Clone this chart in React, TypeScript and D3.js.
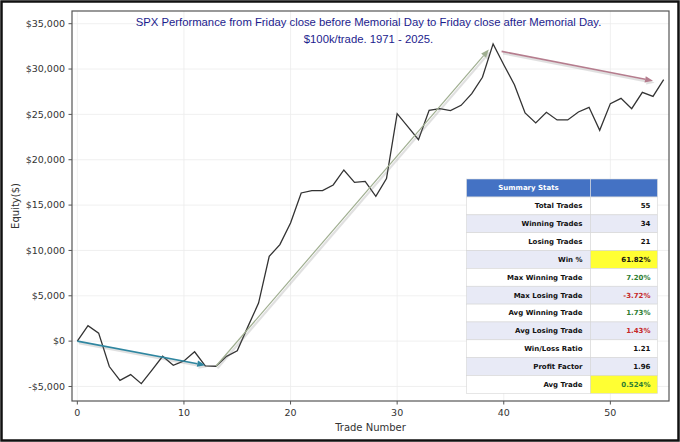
import React from "react";
import * as d3 from "d3";

// equity curve, $ after each trade (trade 0 = start)
const equity = [
  0, 1710, 880, -2800, -4320, -3690, -4690, -3200, -1670, -2660,
  -2180, -1170, -2730, -2770, -1680, -1070, 1600, 4200, 9350, 10640,
  13030, 16340, 16600, 16590, 17220, 18870, 17510, 17620, 15970, 17920,
  25080, 23650, 22220, 25450, 25630, 25410, 26000, 27290, 29090, 32770,
  30480, 28280, 25160, 24060, 25230, 24390, 24390, 25270, 25780, 23240,
  26190, 26770, 25630, 27430, 26990, 28830,
];

const xTicks = [0, 10, 20, 30, 40, 50];
const yTicks = [-5000, 0, 5000, 10000, 15000, 20000, 25000, 30000, 35000];

// trend arrows in data space: [x0, y0, x1, y1, colour]
const arrows: [number, number, number, number, string][] = [
  [0, 0, 12.0, -2650, "#2f86a0"],
  [13, -2770, 38.6, 32150, "#9fae90"],
  [39.8, 31950, 54.0, 28700, "#b57d8e"],
];

const statLabels = [
  "Total Trades", "Winning Trades", "Losing Trades", "Win %",
  "Max Winning Trade", "Max Losing Trade", "Avg Winning Trade",
  "Avg Losing Trade", "Win/Loss Ratio", "Profit Factor", "Avg Trade",
];
const statValues = [
  "55", "34", "21", "61.82%", "7.20%", "-3.72%", "1.73%", "1.43%",
  "1.21", "1.96", "0.524%",
];
const statColors = [
  "#111", "#111", "#111", "#111", "#2e7d32", "#c62828", "#2e7d32",
  "#c62828", "#111", "#111", "#2e7d32",
];
const statHighlight = [false, false, false, true, false, false, false, false, false, false, true];

const W = 680;
const H = 442;
const left = 72, right = 669, top = 11, bottom = 401;

function Arrow({ x0, y0, x1, y1, color, w }: { x0: number; y0: number; x1: number; y1: number; color: string; w: number }) {
  const ang = Math.atan2(y1 - y0, x1 - x0);
  const hl = 8, hw = 3.2;
  const bx = x1 - hl * Math.cos(ang), by = y1 - hl * Math.sin(ang);
  const px = -Math.sin(ang) * hw, py = Math.cos(ang) * hw;
  const head = `M${x1},${y1}L${bx + px},${by + py}L${bx - px},${by - py}Z`;
  return (
    <g>
      <g transform="translate(1.5,2)" opacity={0.22}>
        <line x1={x0} y1={y0} x2={bx} y2={by} stroke="#777" strokeWidth={2.2} />
        <path d={head} fill="#777" />
      </g>
      <line x1={x0} y1={y0} x2={bx} y2={by} stroke={color} strokeWidth={w} />
      <path d={head} fill={color} />
    </g>
  );
}

export default function App() {
  const x = d3.scaleLinear().domain([-0.5, 55.5]).range([left, right]);
  const y = d3.scaleLinear().domain([-6600, 36400]).range([bottom, top]);

  const line = d3.line<number>()
    .x((_, i) => x(i))
    .y(d => y(d));

  const fmt = (v: number) => (v < 0 ? "-$" : "$") + d3.format(",")(Math.abs(v));

  // table geometry
  const tx = 466.5, tw1 = 124, tw2 = 67, th = 18, rowH = 17.85;
  const ty = 179;

  return (
    <div style={{ position: "absolute", left: 0, top: 0 }}>
      <svg width={W} height={H} style={{ display: "block", background: "#fff" }}>
        <rect x={1.5} y={1.5} width={W - 3} height={H - 3} fill="#fff" stroke="#111" strokeWidth={2.5} />

        {/* grid */}
        <g stroke="#ececec" strokeWidth={0.8}>
          {xTicks.map(t => <line key={"gx" + t} x1={x(t)} x2={x(t)} y1={top} y2={bottom} />)}
          {yTicks.map(t => <line key={"gy" + t} x1={left} x2={right} y1={y(t)} y2={y(t)} />)}
        </g>

        {/* equity line */}
        <path d={line(equity) ?? ""} fill="none" stroke="#333" strokeWidth={1.3} />

        {arrows.map((a, i) => (
          <Arrow key={i} x0={x(a[0])} y0={y(a[1])} x1={x(a[2])} y1={y(a[3])} color={a[4]} w={i === 1 ? 1.2 : 1.6} />
        ))}

        {/* axes frame */}
        <rect x={left} y={top} width={right - left} height={bottom - top} fill="none" stroke="#555" strokeWidth={1.2} />

        {/* ticks */}
        <g fontFamily="DejaVu Sans" fontSize={9.5} fill="#333">
          {xTicks.map(t => (
            <g key={"xt" + t}>
              <line x1={x(t)} x2={x(t)} y1={bottom} y2={bottom + 3.5} stroke="#555" />
              <text x={x(t)} y={bottom + 15} textAnchor="middle">{t}</text>
            </g>
          ))}
          {yTicks.map(t => (
            <g key={"yt" + t}>
              <line x1={left - 3.5} x2={left} y1={y(t)} y2={y(t)} stroke="#555" />
              <text x={left - 7} y={y(t)} dy="0.35em" textAnchor="end">{fmt(t)}</text>
            </g>
          ))}
        </g>
        <g fontFamily="DejaVu Sans" fontSize={10} fill="#333">
          <text x={(left + right) / 2} y={431} textAnchor="middle">Trade Number</text>
          <text transform={`translate(19,${(top + bottom) / 2}) rotate(-90)`} textAnchor="middle">Equity($)</text>
        </g>

        {/* title */}
        <g fontFamily="Liberation Sans, Arial" fontSize={11.3} fill="#1c1c8e" textAnchor="middle">
          <text x={368.5} y={26}>SPX Performance from Friday close before Memorial Day to Friday close after Memorial Day.</text>
          <text x={368.5} y={43}>$100k/trade. 1971 - 2025.</text>
        </g>

        {/* summary table */}
        <g fontFamily="DejaVu Sans" fontSize={7} fontWeight="bold">
          <rect x={tx} y={ty} width={tw1} height={th} fill="#4472c4" stroke="#e0e0e0" strokeWidth={0.6} />
          <rect x={tx + tw1} y={ty} width={tw2} height={th} fill="#4472c4" stroke="#e0e0e0" strokeWidth={0.6} />
          <text x={tx + tw1 / 2} y={ty + th / 2} dy="0.35em" textAnchor="middle" fill="#fff">Summary Stats</text>
          {statLabels.map((lab, i) => {
            const ry = ty + th + i * rowH;
            const bg = i % 2 === 1 ? "#e8eaf6" : "#fff";
            return (
              <g key={lab}>
                <rect x={tx} y={ry} width={tw1} height={rowH} fill={bg} stroke="#d6d6d6" strokeWidth={0.6} />
                <rect x={tx + tw1} y={ry} width={tw2} height={rowH} fill={statHighlight[i] ? "#ffff33" : bg} stroke="#d6d6d6" strokeWidth={0.6} />
                <text x={tx + tw1 - 8} y={ry + rowH / 2} dy="0.35em" textAnchor="end" fill="#111">{lab}</text>
                <text x={tx + tw1 + tw2 - 7} y={ry + rowH / 2} dy="0.35em" textAnchor="end" fill={statColors[i]}>{statValues[i]}</text>
              </g>
            );
          })}
        </g>
      </svg>
    </div>
  );
}
